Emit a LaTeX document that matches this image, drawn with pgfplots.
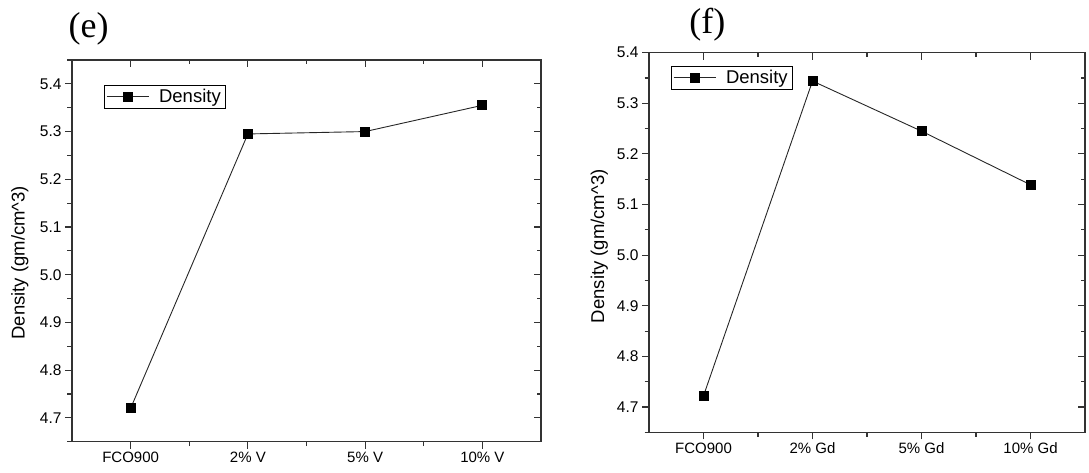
\documentclass[border=0pt]{standalone}
\usepackage{pgfplots}
\pgfplotsset{compat=1.18}
\usepackage{fontspec}
\setmainfont{Liberation Sans}
\newfontfamily\timesfont{Liberation Serif}

% data, one table per panel
\pgfplotstableread{
x  y
0  4.720
1  5.295
2  5.300
3  5.355
}\dataV
\pgfplotstableread{
x  y
0  4.722
1  5.344
2  5.245
3  5.139
}\dataGd

\pgfplotsset{
  panel/.style={
    scale only axis,
    anchor=south west,
    xmin=-0.5, xmax=3.5,
    ymin=4.65,
    xtick={0,1,2,3},
    minor xtick={0.5,1.5,2.5},
    ytick={4.7,4.8,...,5.41},
    minor ytick={4.65,4.75,...,5.46},
    axis line style={black!80, line width=1.4bp},
    tick style={black!80, line width=1.1bp},
    major tick length=7bp,
    minor tick length=4.5bp,
    /pgf/number format/assume math mode=true,
    yticklabel style={font=\fontsize{15.5bp}{18bp}\selectfont,
      /pgf/number format/.cd, fixed, fixed zerofill, precision=1},
    xticklabel style={font=\fontsize{15bp}{18bp}\selectfont},
    ylabel style={font=\fontsize{18.5bp}{22bp}\selectfont, anchor=center},
    title style={font=\timesfont\fontsize{36bp}{40bp}\selectfont, anchor=center},
    legend style={draw=black, line width=0.6bp, inner xsep=2bp, inner ysep=0bp,
      font=\fontsize{18.5bp}{21bp}\selectfont, anchor=north west,
      nodes={inner xsep=3bp, inner ysep=4bp}},
    legend cell align=left,
    legend image code/.code={\draw[mark repeat=2,mark phase=2,#1]
      plot coordinates {(6bp,0bp) (27bp,0bp) (48bp,0bp)};
      \path (55bp,0bp);},
  },
  outer/.style={tick align=outside, xtick pos=left, ytick pos=left},
  inner/.style={tick align=inside, xtick pos=right, ytick pos=right,
    xticklabels={}, yticklabels={}, axis line style={draw=none}},
  series/.style={black!85, line width=0.9bp, mark=square*,
    mark size=4.5bp, mark options={solid, fill=black, draw=black}},
}

\begin{document}
\begin{tikzpicture}
\useasboundingbox (0bp,0bp) rectangle (1089bp,473bp);

% panel (e)
\begin{axis}[panel, outer,
  at={(72bp,31.3bp)}, width=469bp, height=381.7bp,
  ymax=5.45,
  xticklabels={FCO900, 2\% V, 5\% V, 10\% V},
  ylabel={Density (gm/cm\textasciicircum 3)},
  ylabel style={at={(axis description cs:-0.111,0.469)}},
  title={(e)},
  title style={at={(axis description cs:0.0356,1.066)}},
  legend style={at={(axis description cs:0.068,0.934)}},
]
\addplot[series] table[x=x, y=y] {\dataV};
\addlegendentry{Density}
\end{axis}
\begin{axis}[panel, inner,
  at={(72bp,31.3bp)}, width=469bp, height=381.7bp,
  ymax=5.45,
]
\addplot[draw=none] table[x=x, y=y] {\dataV};
\end{axis}

% panel (f)
\begin{axis}[panel, outer,
  at={(649bp,40.7bp)}, width=436bp, height=379.6bp,
  ymax=5.4,
  xticklabels={FCO900, 2\% Gd, 5\% Gd, 10\% Gd},
  ylabel={Density (gm/cm\textasciicircum 3)},
  ylabel style={at={(axis description cs:-0.114,0.49)}},
  title={(f)},
  title style={at={(axis description cs:0.134,1.058)}},
  legend style={at={(axis description cs:0.050,0.965)}},
]
\addplot[series] table[x=x, y=y] {\dataGd};
\addlegendentry{Density}
\end{axis}
\begin{axis}[panel, inner,
  at={(649bp,40.7bp)}, width=436bp, height=379.6bp,
  ymax=5.4,
]
\addplot[draw=none] table[x=x, y=y] {\dataGd};
\end{axis}
\end{tikzpicture}
\end{document}
